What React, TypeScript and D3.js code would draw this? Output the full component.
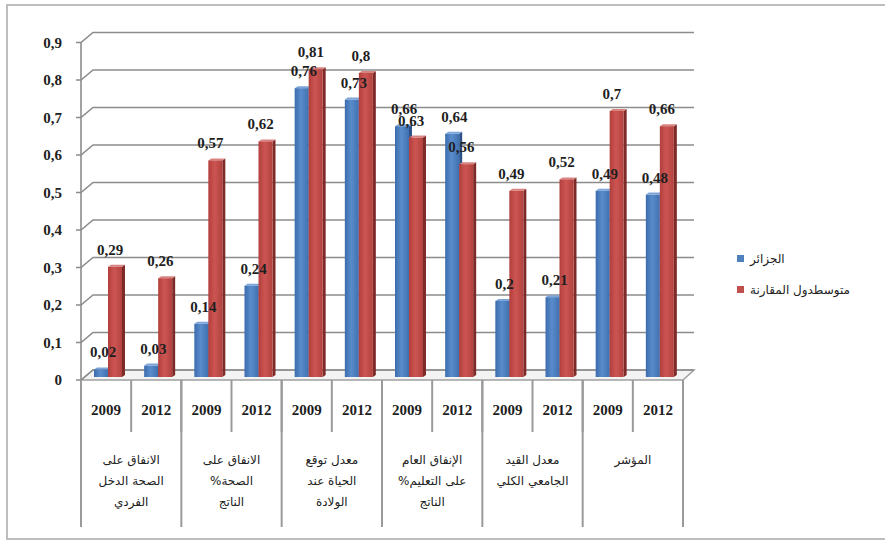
import * as d3 from "d3";

// one entry per category, lines of the axis label
const categories: string[][] = [
  ["الانفاق على", "الصحة الدخل", "الفردي"],
  ["الانفاق على", "%الصحة", "الناتج"],
  ["معدل توقع", "الحياة عند", "الولادة"],
  ["الإنفاق العام", "%على التعليم", "الناتج"],
  ["معدل القيد", "الجامعي الكلي"],
  ["المؤشر"],
];
const years = ["2009", "2012"];
const seriesNames = ["الجزائر", "متوسطدول المقارنة"];
// values per column (category x year), left to right
const algeria = [0.02, 0.03, 0.14, 0.24, 0.76, 0.73, 0.66, 0.64, 0.2, 0.21, 0.49, 0.48];
const comparison = [0.29, 0.26, 0.57, 0.62, 0.81, 0.8, 0.63, 0.56, 0.49, 0.52, 0.7, 0.66];
const yTicks = [0, 0.1, 0.2, 0.3, 0.4, 0.5, 0.6, 0.7, 0.8, 0.9];

const W = 885;
const H = 540;
const serif = "'Liberation Serif', 'DejaVu Serif', serif";
const arabic = "'DejaVu Sans', sans-serif";

const fmt = (v: number) => String(v).replace(".", ",");

export default function App() {
  const cols = categories.flatMap((_, ci) => years.map((yr) => `${ci}-${yr}`));
  const x = d3.scaleBand<string>().domain(cols).range([81, 683]).padding(0);
  const groupX = d3
    .scaleBand<number>()
    .domain(categories.map((_, i) => i))
    .range([81, 683]);

  // back wall / front edge / bar plane
  const yBack = d3.scaleLinear().domain([0, 0.9]).range([370, 32.5]);
  const yFront = d3.scaleLinear().domain([0, 0.9]).range([380, 42.5]);
  const yBar = d3.scaleLinear().domain([0, 0.9]).range([377, 35]);
  const wallX0 = 93;
  const wallX1 = 694;

  const bw = 14;
  const dx = 3;
  const dy = 2;

  const series = [
    { name: seriesNames[0], values: algeria, off: 13, front: "url(#gBlue)", side: "#2d5288", top: "#7ca4d8", label: -3, color: "#4f81bd" },
    { name: seriesNames[1], values: comparison, off: 27, front: "url(#gRed)", side: "#7e2a28", top: "#d98380", label: 4, color: "#c0504d" },
  ];

  return (
    <div style={{ position: "absolute", left: 0, top: 0 }}>
      <svg width={W} height={H} style={{ display: "block", background: "#fff" }}>
        <defs>
          <linearGradient id="gBlue" x1="0" x2="1" y1="0" y2="0">
            <stop offset="0" stopColor="#3b6cad" />
            <stop offset="0.45" stopColor="#5a8ccc" />
            <stop offset="1" stopColor="#3f70b0" />
          </linearGradient>
          <linearGradient id="gRed" x1="0" x2="1" y1="0" y2="0">
            <stop offset="0" stopColor="#b23f3c" />
            <stop offset="0.45" stopColor="#cc5552" />
            <stop offset="1" stopColor="#b2423f" />
          </linearGradient>
        </defs>

        {/* outer frame */}
        <rect x={7} y={5} width={W} height={534} fill="none" stroke="#bdbdbd" strokeWidth={2} />

        {/* floor */}
        <polygon
          points={`81,380 ${wallX0},370 ${wallX1},370 683,380`}
          fill="#f3f3f3"
          stroke="#a0a0a0"
          strokeWidth={1.5}
        />

        {/* gridlines on the back wall */}
        {yTicks.map((t) => (
          <g key={t}>
            <polyline
              points={`76,${yFront(t)} 81,${yFront(t)} ${wallX0},${yBack(t)} ${wallX1},${yBack(t)}`}
              fill="none"
              stroke="#8c8c8c"
              strokeWidth={1.6}
            />
            <text
              x={62}
              y={yFront(t) + 5}
              textAnchor="end"
              fontFamily={serif}
              fontWeight="bold"
              fontSize={15}
              fill="#222"
            >
              {fmt(t)}
            </text>
          </g>
        ))}
        <line x1={81} x2={81} y1={yFront(0.9)} y2={380} stroke="#8c8c8c" strokeWidth={1.6} />

        {/* bars */}
        {cols.map((c, i) => (
          <g key={c}>
            {series.map((s) => {
              const x0 = (x(c) ?? 0) + s.off;
              const top = yBar(s.values[i]);
              const base = yBar(0);
              return (
                <g key={s.name}>
                  <polygon
                    points={`${x0 + bw},${top} ${x0 + bw + dx},${top - dy} ${x0 + bw + dx},${base - dy} ${x0 + bw},${base}`}
                    fill={s.side}
                  />
                  <polygon
                    points={`${x0},${top} ${x0 + dx},${top - dy} ${x0 + bw + dx},${top - dy} ${x0 + bw},${top}`}
                    fill={s.top}
                  />
                  <rect x={x0} y={top} width={bw} height={base - top} fill={s.front} />
                </g>
              );
            })}
          </g>
        ))}

        {/* value labels */}
        {cols.map((c, i) => (
          <g key={`l-${c}`}>
            {series.map((s) => (
              <text
                key={s.name}
                x={(x(c) ?? 0) + x.bandwidth() / 2 + s.label}
                y={yBar(s.values[i]) - 12}
                textAnchor="middle"
                fontFamily={serif}
                fontWeight="bold"
                fontSize={15}
                fill="#1e1e1e"
              >
                {fmt(s.values[i])}
              </text>
            ))}
          </g>
        ))}

        {/* category table under the axis */}
        {cols.map((c) => (
          <g key={`y-${c}`}>
            <line
              x1={(x(c) ?? 0) + x.bandwidth()}
              x2={(x(c) ?? 0) + x.bandwidth()}
              y1={380}
              y2={432}
              stroke="#9a9a9a"
              strokeWidth={2}
            />
            <text
              x={(x(c) ?? 0) + x.bandwidth() / 2}
              y={415}
              textAnchor="middle"
              fontFamily={serif}
              fontWeight="bold"
              fontSize={15}
              fill="#1e1e1e"
            >
              {c.split("-")[1]}
            </text>
          </g>
        ))}
        {categories.map((lines, ci) => (
          <g key={`c-${ci}`}>
            <line
              x1={groupX(ci) ?? 0}
              x2={groupX(ci) ?? 0}
              y1={380}
              y2={527}
              stroke="#9a9a9a"
              strokeWidth={2}
            />
            {lines.map((ln, li) => (
              <text
                key={li}
                x={(groupX(ci) ?? 0) + groupX.bandwidth() / 2}
                y={464 + li * 21}
                textAnchor="middle"
                fontFamily={arabic}
                fontSize={12}
                fill="#222"
              >
                {ln}
              </text>
            ))}
          </g>
        ))}
        <line x1={683} x2={683} y1={380} y2={527} stroke="#9a9a9a" strokeWidth={2} />

        {/* legend */}
        {series.map((s, i) => (
          <g key={`lg-${s.name}`}>
            <rect x={737} y={255 + i * 31} width={7} height={7} fill={s.color} />
            <text x={750} y={263 + i * 31} fontFamily={arabic} fontSize={12} fill="#222">
              {s.name}
            </text>
          </g>
        ))}
      </svg>
    </div>
  );
}
